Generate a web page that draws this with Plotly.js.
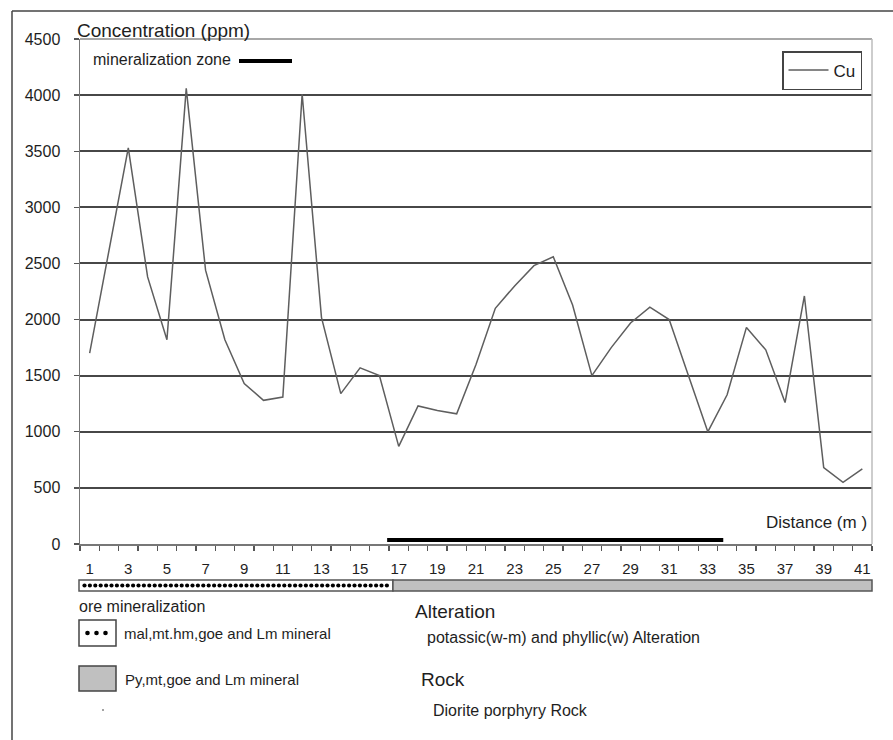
<!DOCTYPE html>
<html>
<head>
<meta charset="utf-8">
<script src="https://cdn.plot.ly/plotly-3.0.1.min.js"></script>
<style>
  html, body { margin: 0; padding: 0; background: #fff; }
  #chart { width: 893px; height: 740px; }
</style>
</head>
<body>
<div id="chart"></div>
<script>
// Sampling positions along the profile (m) and Cu concentration (ppm)
const distance = [1, 2, 3, 4, 5, 6, 7, 8, 9, 10, 11, 12, 13, 14, 15, 16, 17, 18, 19, 20, 21,
                  22, 23, 24, 25, 26, 27, 28, 29, 30, 31, 32, 33, 34, 35, 36, 37, 38, 39, 40, 41];
const cu = [1700, 2600, 3530, 2380, 1820, 4060, 2440, 1820, 1430, 1280, 1310, 4010, 2020, 1340,
            1570, 1500, 870, 1230, 1190, 1160, 1600, 2100, 2300, 2480, 2560, 2130, 1500, 1750,
            1970, 2110, 2000, 1500, 1000, 1330, 1930, 1730, 1260, 2210, 680, 550, 670];
const xTickLabels = ['1', '3', '5', '7', '9', '11', '13', '15', '17', '19', '21',
                     '23', '25', '27', '29', '31', '33', '35', '37', '39', '41'];
const yTickValues = [0, 500, 1000, 1500, 2000, 2500, 3000, 3500, 4000, 4500];

// Intervals along the profile
const zoneStart = 16.4, zoneEnd = 33.8;   // mineralization zone
const oreEnd = 16.7;                      // end of the mal,mt,hm,goe section

// Plot area in pixels
const L = 80, R = 872, T = 39, B = 544;
const px = x => (x - L) / (R - L);
const py = y => (B - y) / (B - T);

const FONT = '"Liberation Sans", Arial, Helvetica, sans-serif';
const INK = '#1e1e1e';

const trace = {
  x: distance,
  y: cu,
  type: 'scatter',
  mode: 'lines',
  name: 'Cu',
  line: { color: '#5e5e5e', width: 1.5 },
  hoverinfo: 'x+y'
};

const shapes = [];
const annotations = [];

function line(x0, y0, x1, y1, color, width, xref, yref) {
  shapes.push({ type: 'line', xref: xref || 'paper', yref: yref || 'paper',
                x0: x0, y0: y0, x1: x1, y1: y1,
                line: { color: color, width: width }, layer: 'above' });
}
function rect(x0, y0, x1, y1, fill, border) {
  shapes.push({ type: 'rect', xref: 'paper', yref: 'paper',
                x0: px(x0), x1: px(x1), y0: py(y1), y1: py(y0),
                fillcolor: fill, line: { color: border, width: 1.5 }, layer: 'above' });
}
function dot(cx, cy, r) {
  shapes.push({ type: 'circle', xref: 'paper', yref: 'paper',
                x0: px(cx - r), x1: px(cx + r), y0: py(cy + r), y1: py(cy - r),
                fillcolor: '#000', line: { width: 0 }, layer: 'above' });
}
function label(text, x, y, size, anchor) {
  annotations.push({ text: text, xref: 'paper', yref: 'paper', x: px(x), y: py(y),
                     xanchor: anchor || 'left', yanchor: 'middle', showarrow: false,
                     font: { family: FONT, size: size, color: INK } });
}

// frame around the whole figure
line(px(12), py(11), px(893), py(11), '#444', 1.5);
line(px(12), py(11), px(12), py(740), '#444', 1.5);

// plot box: light top and right edges
line(0, 1, 1, 1, '#a8a8a8', 2);
line(1, 0, 1, 1, '#bdbdbd', 1.5);

// mineralization zone bar just above the axis
line(zoneStart, py(540), zoneEnd, py(540), '#000', 4, 'x', 'paper');

// key for the zone bar
label('mineralization zone', 91, 59, 16);
line(px(239), py(61), px(292), py(61), '#000', 4);

// axis titles
label('Concentration (ppm)', 75, 31, 19);
label('Distance (m )', 869, 522, 17, 'right');

// ore / alteration strip under the axis
const xOre = L + (oreEnd - 0.5) / 41 * (R - L);
rect(79, 580, xOre, 591, '#ffffff', '#555');
rect(xOre, 580, 872, 591, '#c0c0c0', '#555');
for (let xd = 84.5; xd < xOre - 3; xd += 5.4) dot(xd, 585.5, 2.1);

// legend of the strip
label('ore mineralization', 77, 606, 16);
rect(79, 620, 116, 646, '#ffffff', '#444');
dot(87.5, 633, 2.3); dot(96.5, 633, 2.3); dot(105.5, 633, 2.3);
label('mal,mt.hm,goe and Lm mineral', 122, 633, 15);
rect(79, 666, 116, 691, '#c0c0c0', '#444');
label('Py,mt,goe and Lm mineral', 123, 679, 15);
dot(103, 710, 0.7);

label('Alteration', 413, 611, 19);
label('potassic(w-m) and phyllic(w) Alteration', 425, 637, 16);
label('Rock', 419, 679, 19);
label('Diorite porphyry Rock', 431, 710, 16);

const boundaries = [];
for (let i = 0; i <= distance.length; i++) boundaries.push(i + 0.5);

const layout = {
  width: 893,
  height: 740,
  margin: { l: L, r: 893 - R, t: T, b: 740 - B },
  paper_bgcolor: '#ffffff',
  plot_bgcolor: '#ffffff',
  font: { family: FONT, color: INK },
  showlegend: true,
  legend: {
    x: px(862), y: py(51), xanchor: 'right', yanchor: 'top',
    bgcolor: '#ffffff', bordercolor: '#444', borderwidth: 1.5,
    font: { family: FONT, size: 17, color: INK },
    itemwidth: 40
  },
  xaxis: {
    range: [0.5, distance.length + 0.5],
    tickmode: 'array',
    tickvals: xTickLabels.map(Number),
    ticktext: xTickLabels,
    ticks: '',
    ticklabelstandoff: 10,
    minor: { tickmode: 'array', tickvals: boundaries, ticks: 'outside',
             ticklen: 5, tickcolor: '#555', tickwidth: 1.3, showgrid: false },
    showgrid: false,
    zeroline: false,
    showline: true,
    linecolor: '#777',
    linewidth: 1.5,
    tickfont: { family: FONT, size: 15, color: INK },
    fixedrange: true
  },
  yaxis: {
    range: [0, 4500],
    tickmode: 'array',
    tickvals: yTickValues,
    ticks: 'outside',
    ticklen: 5,
    tickcolor: '#555',
    tickwidth: 1.3,
    ticklabelstandoff: 10,
    showgrid: true,
    gridcolor: '#474747',
    gridwidth: 2,
    zeroline: false,
    showline: true,
    linecolor: '#777',
    linewidth: 1.5,
    tickfont: { family: FONT, size: 16, color: INK },
    fixedrange: true
  },
  shapes: shapes,
  annotations: annotations
};

Plotly.newPlot('chart', [trace], layout, { displayModeBar: false, staticPlot: true });
</script>
</body>
</html>
